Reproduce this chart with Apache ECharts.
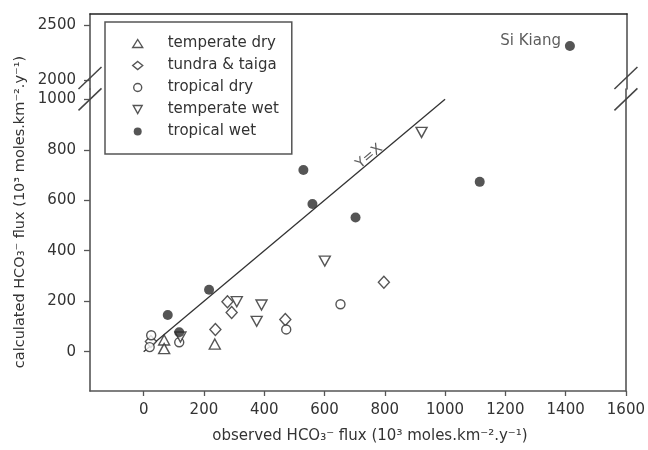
<!DOCTYPE html>
<html><head><meta charset="utf-8">
<script src="https://cdn.jsdelivr.net/npm/echarts@6/dist/echarts.min.js"></script>
<style>html,body{margin:0;padding:0;background:#fff}#c{width:648px;height:450px}</style>
</head><body><div id="c"></div>
<script>
// ---- data ----
const xTicks = [0, 200, 400, 600, 800, 1000, 1200, 1400, 1600];
const yTicksLow = [0, 200, 400, 600, 800, 1000];
const yTicksHigh = [2000, 2500];
const temperateDry = [[68, 46], [68, 12], [236, 30]];
const tundraTaiga = [[24, 40], [238, 88], [278, 198], [292, 155], [470, 127], [797, 275]];
const tropicalDry = [[25, 65], [20, 18], [118, 37], [473, 88], [653, 188]];
const temperateWet = [[122, 58], [309, 198], [391, 185], [375, 120], [601, 359], [922, 869]];
const tropicalWet = [[80, 145], [118, 77], [217, 245], [560, 585], [530, 720], [703, 532], [1115, 673]];
const tropicalWetHigh = [[1411, 2309]];
const highLabel = 'Si Kiang';
const yxLine = [[0, 0], [1000, 1000]];
const yxLabelAt = [[754, 754]];
const yxLabel = 'Y=X';
const legendNames = ['temperate dry', 'tundra & taiga', 'tropical dry', 'temperate wet', 'tropical wet'];
const xTitle = 'observed HCO\u2083\u207B flux (10\u00B3 moles.km\u207B\u00B2.y\u207B\u00B9)';
const yTitle = 'calculated HCO\u2083\u207B flux (10\u00B3 moles.km\u207B\u00B2.y\u207B\u00B9)';

// ---- chart ----
const FONT = 'DejaVu Sans';
const AX = '#555';
const TXT = '#333';
const X_MIN = -178, X_MAX = 1600;
const plain = v => String(v);
const chart = echarts.init(document.getElementById('c'), null, {renderer: 'canvas'});
const openStyle = {color: '#fff', borderColor: '#2a2a2a', borderWidth: 1.4};
const downTriangle = 'path://M0,0 L10,0 L5,9 Z';
const lineOnlyY = (grid, min, max, pos) => ({
  type: 'value', gridIndex: grid, position: pos, min: min, max: max,
  axisLine: {show: true, onZero: false, lineStyle: {color: AX, width: 1.6}},
  axisTick: {show: false}, axisLabel: {show: false}, splitLine: {show: false}
});
const option = {
  backgroundColor: '#fff',
  animation: false,
  textStyle: {fontFamily: FONT},
  grid: [
    {left: 90, right: 21, top: 89, bottom: 59},
    {left: 90, right: 21, top: 14, height: 75}
  ],
  xAxis: [
    {type: 'value', gridIndex: 0, min: X_MIN, max: X_MAX, position: 'bottom',
     axisLine: {show: true, onZero: false, lineStyle: {color: AX, width: 1.6}},
     axisTick: {show: true, length: 5, customValues: xTicks, lineStyle: {color: AX, width: 1.3}},
     axisLabel: {customValues: xTicks, formatter: plain, margin: 12, fontSize: 15, fontFamily: FONT, color: TXT},
     splitLine: {show: false}},
    {type: 'value', gridIndex: 1, min: X_MIN, max: X_MAX, position: 'top',
     axisLine: {show: true, onZero: false, lineStyle: {color: '#222', width: 1.6}},
     axisTick: {show: false}, axisLabel: {show: false}, splitLine: {show: false}}
  ],
  yAxis: [
    {type: 'value', gridIndex: 0, min: -156, max: 1041, position: 'left',
     axisLine: {show: true, onZero: false, lineStyle: {color: AX, width: 1.6}},
     axisTick: {show: true, length: 6, customValues: yTicksLow, lineStyle: {color: AX, width: 1.3}},
     axisLabel: {customValues: yTicksLow, formatter: plain, margin: 14, fontSize: 15, fontFamily: FONT, color: TXT},
     splitLine: {show: false}},
    {type: 'value', gridIndex: 1, min: 1918, max: 2600, position: 'left',
     axisLine: {show: true, onZero: false, lineStyle: {color: AX, width: 1.6}},
     axisTick: {show: true, length: 6, customValues: yTicksHigh, lineStyle: {color: AX, width: 1.3}},
     axisLabel: {customValues: yTicksHigh, formatter: plain, margin: 14, fontSize: 15, fontFamily: FONT, color: TXT},
     splitLine: {show: false}},
    lineOnlyY(0, -156, 1041, 'right'),
    lineOnlyY(1, 1918, 2600, 'right')
  ],
  legend: {
    data: legendNames, orient: 'vertical', left: 105, top: 22,
    itemWidth: 10, itemHeight: 8, itemGap: 7, padding: [14, 13, 15, 27],
    borderColor: '#555', borderWidth: 1.5, borderRadius: 0,
    itemStyle: {borderWidth: 1.4},
    textStyle: {fontFamily: FONT, fontSize: 15, color: TXT, padding: [0, 0, 0, 20]},
    selectedMode: false
  },
  series: [
    {name: 'temperate dry', type: 'scatter', xAxisIndex: 0, yAxisIndex: 0, symbol: 'triangle',
     symbolSize: [11, 10], itemStyle: openStyle, data: temperateDry},
    {name: 'tundra & taiga', type: 'scatter', xAxisIndex: 0, yAxisIndex: 0, symbol: 'diamond',
     symbolSize: [11, 12], itemStyle: openStyle, data: tundraTaiga},
    {name: 'tropical dry', type: 'scatter', xAxisIndex: 0, yAxisIndex: 0, symbol: 'circle',
     symbolSize: 9, itemStyle: openStyle, data: tropicalDry},
    {name: 'temperate wet', type: 'scatter', xAxisIndex: 0, yAxisIndex: 0, symbol: downTriangle,
     symbolSize: [11, 10], itemStyle: openStyle, data: temperateWet},
    {name: 'tropical wet', type: 'scatter', xAxisIndex: 0, yAxisIndex: 0, symbol: 'circle',
     symbolSize: 10, itemStyle: {color: '#2b2b2b'}, data: tropicalWet},
    {name: 'tropical wet', type: 'scatter', xAxisIndex: 1, yAxisIndex: 1, symbol: 'circle',
     symbolSize: 10, itemStyle: {color: '#2b2b2b'}, data: tropicalWetHigh,
     label: {show: true, position: 'left', formatter: highLabel, distance: 4, offset: [0, -5],
             fontFamily: FONT, fontSize: 15, color: TXT}},
    {name: 'Y=X line', type: 'line', xAxisIndex: 0, yAxisIndex: 0, data: yxLine, symbol: 'none',
     lineStyle: {color: '#333', width: 1.3}, silent: true, z: 1},
    {name: 'Y=X label', type: 'scatter', xAxisIndex: 0, yAxisIndex: 0, data: yxLabelAt, symbolSize: 0,
     silent: true,
     label: {show: true, position: 'inside', formatter: yxLabel, rotate: 40, offset: [2, -5],
             fontFamily: FONT, fontSize: 14, color: TXT}}
  ]
};
chart.setOption(option);

// axis break marks and axis titles
const yLowBreak = chart.convertToPixel({yAxisIndex: 0}, yTicksLow[yTicksLow.length - 1]);
const yHighBreak = chart.convertToPixel({yAxisIndex: 1}, yTicksHigh[0]);
const xLeft = chart.convertToPixel({xAxisIndex: 0}, X_MIN);
const xRight = chart.convertToPixel({xAxisIndex: 0}, X_MAX);
const deco = [];
[xLeft, xRight].forEach(cx => {
  [yLowBreak, yHighBreak - 2].forEach(cy => {
    deco.push({type: 'line', silent: true, z: 50,
      shape: {x1: cx - 11.5, y1: cy + 11, x2: cx + 11.5, y2: cy - 11},
      style: {stroke: '#444', lineWidth: 1.5}});
  });
});
const yBottom = chart.convertToPixel({yAxisIndex: 0}, -156);
deco.push({type: 'text', silent: true,
  x: (xLeft + xRight) / 2 + 12, y: yBottom + 45,
  style: {text: xTitle, font: '15px "DejaVu Sans"', fill: TXT, align: 'center', verticalAlign: 'middle'}});
deco.push({type: 'text', silent: true, rotation: Math.PI / 2,
  x: 20, y: 212,
  style: {text: yTitle, font: '14.5px "DejaVu Sans"', fill: TXT, align: 'center', verticalAlign: 'middle'}});
chart.setOption({graphic: deco});
</script></body></html>
